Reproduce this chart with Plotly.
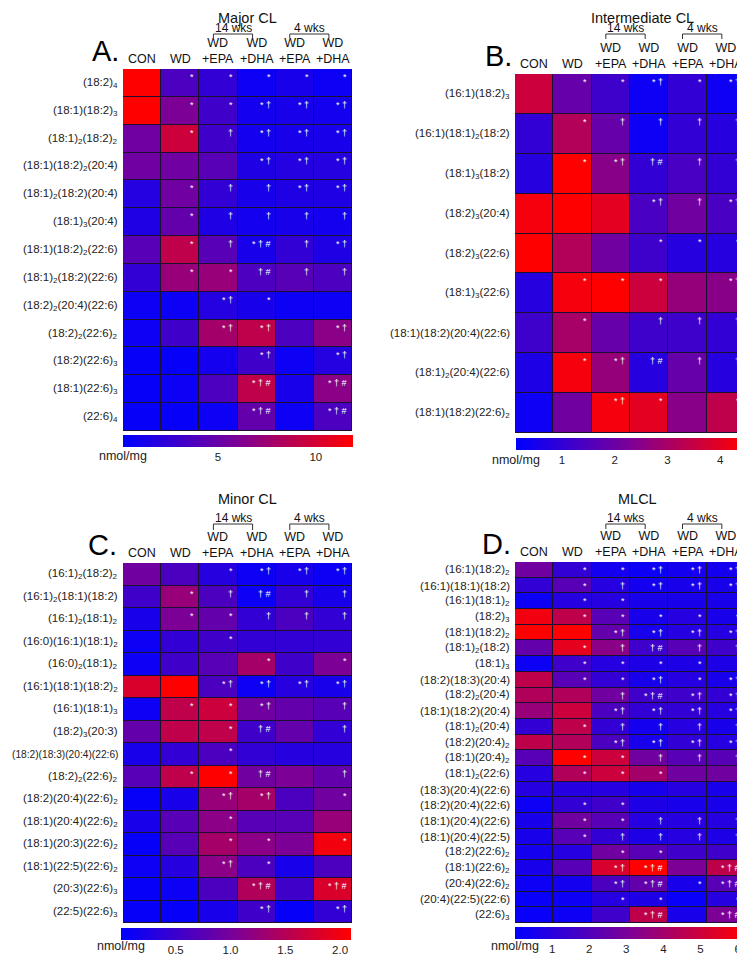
import plotly.graph_objects as go

# page is drawn with the browser's default 8px body margin -> figure is 8px smaller
OFF = 8
W, H = 745 - OFF, 956 - OFF
FONT = "Liberation Sans, Arial, sans-serif"

columns = ["CON", "WD", "WD<br>+EPA", "WD<br>+DHA", "WD<br>+EPA", "WD<br>+DHA"]

# ---------------- Panel A: Major CL ----------------
rows_a = ["(18:2)<sub>4</sub>", "(18:1)(18:2)<sub>3</sub>", "(18:1)<sub>2</sub>(18:2)<sub>2</sub>",
          "(18:1)(18:2)<sub>2</sub>(20:4)", "(18:1)<sub>2</sub>(18:2)(20:4)", "(18:1)<sub>3</sub>(20:4)",
          "(18:1)(18:2)<sub>2</sub>(22:6)", "(18:1)<sub>2</sub>(18:2)(22:6)", "(18:2)<sub>2</sub>(20:4)(22:6)",
          "(18:2)<sub>2</sub>(22:6)<sub>2</sub>", "(18:2)(22:6)<sub>3</sub>", "(18:1)(22:6)<sub>3</sub>",
          "(22:6)<sub>4</sub>"]
vals_a = [
    [12.0, 3.7, 2.5, 0.7, 1.3, 0.7],
    [11.9, 6.0, 3.1, 1.1, 1.3, 1.1],
    [5.4, 9.6, 3.1, 1.1, 1.3, 1.3],
    [5.4, 5.4, 4.3, 1.6, 1.9, 1.9],
    [1.9, 5.4, 2.5, 1.3, 1.6, 1.6],
    [1.6, 4.8, 1.6, 1.1, 1.3, 1.1],
    [4.3, 9.0, 4.3, 1.3, 2.5, 1.6],
    [2.5, 7.2, 7.2, 3.7, 4.3, 3.7],
    [0.7, 0.7, 1.9, 1.3, 0.7, 0.7],
    [0.7, 3.1, 7.8, 9.0, 3.7, 6.6],
    [0.5, 0.5, 1.1, 3.1, 0.7, 1.9],
    [0.5, 0.7, 3.7, 9.0, 1.3, 6.6],
    [0.5, 0.5, 0.7, 4.8, 0.7, 3.7],
]
sig_a = [
    ["", "*", "*", "*", "*", "*"],
    ["", "*", "*", "*†", "*†", "*†"],
    ["", "*", "†", "*†", "*†", "*†"],
    ["", "", "", "*†", "*†", "*†"],
    ["", "*", "†", "†", "*†", "*†"],
    ["", "*", "†", "†", "†", "†"],
    ["", "*", "†", "*†#", "†", "*†"],
    ["", "*", "*", "†#", "†", "†"],
    ["", "", "*†", "*", "", ""],
    ["", "", "*†", "*†", "", "*†"],
    ["", "", "", "*†", "", "*†"],
    ["", "", "", "*†#", "", "*†#"],
    ["", "", "", "*†#", "", "*†#"],
]
ticks_a = [5, 10]
range_a = [0.15, 11.9]

# ---------------- Panel B: Intermediate CL ----------------
rows_b = ["(16:1)(18:2)<sub>3</sub>", "(16:1)(18:1)<sub>2</sub>(18:2)", "(18:1)<sub>3</sub>(18:2)",
          "(18:2)<sub>3</sub>(20:4)", "(18:2)<sub>3</sub>(22:6)", "(18:1)<sub>3</sub>(22:6)",
          "(18:1)(18:2)(20:4)(22:6)", "(18:1)<sub>2</sub>(20:4)(22:6)", "(18:1)(18:2)(22:6)<sub>2</sub>"]
vals_b = [
    [3.6, 1.9, 1.2, 0.35, 1.0, 0.35],
    [1.0, 3.2, 1.9, 0.35, 1.0, 0.8],
    [0.8, 4.5, 2.5, 1.0, 1.4, 1.0],
    [4.3, 4.5, 4.0, 1.4, 2.1, 1.4],
    [4.5, 3.2, 2.1, 1.2, 0.8, 0.8],
    [0.8, 4.3, 4.5, 3.6, 2.7, 2.5],
    [1.2, 3.0, 1.9, 1.2, 1.2, 1.0],
    [0.65, 4.3, 2.7, 0.8, 1.9, 0.8],
    [0.35, 2.1, 4.3, 4.0, 2.5, 3.4],
]
sig_b = [
    ["", "*", "*", "*†", "*", "*†"],
    ["", "*", "†", "†", "†", "†"],
    ["", "*", "*†", "†#", "†", "†"],
    ["", "", "", "*†", "†", "*†"],
    ["", "", "", "*", "*", "*"],
    ["", "*", "*", "*", "", "*†"],
    ["", "*", "", "†", "†", "†"],
    ["", "*", "*†", "†#", "†", "†"],
    ["", "", "*†", "*", "", "*"],
]
ticks_b = [1, 2, 3, 4]
range_b = [0.13, 4.47]

# ---------------- Panel C: Minor CL ----------------
rows_c = ["(16:1)<sub>2</sub>(18:2)<sub>2</sub>", "(16:1)<sub>2</sub>(18:1)(18:2)", "(16:1)<sub>2</sub>(18:1)<sub>2</sub>",
          "(16:0)(16:1)(18:1)<sub>2</sub>", "(16:0)<sub>2</sub>(18:1)<sub>2</sub>", "(16:1)(18:1)(18:2)<sub>2</sub>",
          "(16:1)(18:1)<sub>3</sub>", "(18:2)<sub>3</sub>(20:3)", "(18:2)(18:3)(20:4)(22:6)",
          "(18:2)<sub>2</sub>(22:6)<sub>2</sub>", "(18:2)(20:4)(22:6)<sub>2</sub>", "(18:1)(20:4)(22:6)<sub>2</sub>",
          "(18:1)(20:3)(22:6)<sub>2</sub>", "(18:1)(22:5)(22:6)<sub>2</sub>", "(20:3)(22:6)<sub>3</sub>",
          "(22:5)(22:6)<sub>3</sub>"]
vals_c = [
    [0.95, 0.63, 0.32, 0.10, 0.21, 0.10],
    [0.53, 1.26, 0.63, 0.10, 0.42, 0.21],
    [0.21, 1.05, 0.84, 0.42, 0.63, 0.42],
    [0.10, 0.42, 0.53, 0.42, 0.42, 0.42],
    [0.10, 0.53, 0.74, 1.37, 0.53, 1.05],
    [1.79, 2.10, 0.63, 0.10, 0.32, 0.21],
    [0.10, 1.58, 1.68, 0.95, 0.84, 0.74],
    [0.84, 1.58, 1.58, 0.53, 0.84, 0.42],
    [0.21, 0.42, 0.63, 0.42, 0.32, 0.32],
    [0.74, 1.58, 2.10, 0.95, 1.05, 0.84],
    [0.06, 0.21, 1.26, 1.37, 0.63, 0.95],
    [0.21, 0.74, 1.16, 0.74, 0.74, 1.26],
    [0.06, 0.74, 1.37, 1.16, 1.05, 2.00],
    [0.10, 0.32, 1.16, 0.63, 0.21, 0.63],
    [0.06, 0.10, 0.63, 1.47, 0.53, 1.79],
    [0.06, 0.06, 0.21, 0.53, 0.06, 0.42],
]
sig_c = [
    ["", "", "*", "*†", "*†", "*†"],
    ["", "*", "†", "†#", "†", "†"],
    ["", "*", "*", "†", "†", "†"],
    ["", "", "*", "", "", ""],
    ["", "", "", "*", "", "*"],
    ["", "", "*†", "*†", "*†", "*†"],
    ["", "*", "*", "*†", "", "†"],
    ["", "", "*", "†#", "", "†"],
    ["", "", "*", "", "", ""],
    ["", "*", "*", "†#", "", "†"],
    ["", "", "*†", "*†", "", "*"],
    ["", "", "*", "", "", ""],
    ["", "", "*", "*", "", "*"],
    ["", "", "*†", "*", "", ""],
    ["", "", "", "*†#", "", "*†#"],
    ["", "", "", "*†", "", "*†"],
]
ticks_c = [0.5, 1.0, 1.5, 2.0]
range_c = [0.0, 2.1]

# ---------------- Panel D: MLCL ----------------
rows_d = ["(16:1)(18:2)<sub>2</sub>", "(16:1)(18:1)(18:2)", "(16:1)(18:1)<sub>2</sub>", "(18:2)<sub>3</sub>",
          "(18:1)(18:2)<sub>2</sub>", "(18:1)<sub>2</sub>(18:2)", "(18:1)<sub>3</sub>", "(18:2)(18:3)(20:4)",
          "(18:2)<sub>2</sub>(20:4)", "(18:1)(18:2)(20:4)", "(18:1)<sub>2</sub>(20:4)", "(18:2)(20:4)<sub>2</sub>",
          "(18:1)(20:4)<sub>2</sub>", "(18:1)<sub>2</sub>(22:6)", "(18:3)(20:4)(22:6)", "(18:2)(20:4)(22:6)",
          "(18:1)(20:4)(22:6)", "(18:1)(20:4)(22:5)", "(18:2)(22:6)<sub>2</sub>", "(18:1)(22:6)<sub>2</sub>",
          "(20:4)(22:6)<sub>2</sub>", "(20:4)(22:5)(22:6)", "(22:6)<sub>3</sub>"]
vals_d = [
    [2.80, 1.24, 0.50, 0.31, 0.50, 0.50],
    [1.24, 2.17, 0.93, 0.50, 0.62, 0.62],
    [0.31, 0.93, 0.93, 0.62, 0.62, 0.62],
    [5.90, 4.65, 2.17, 0.62, 0.93, 0.62],
    [6.20, 6.20, 2.48, 0.62, 0.93, 0.93],
    [2.48, 5.58, 3.41, 1.55, 2.17, 1.55],
    [0.31, 1.55, 0.93, 0.74, 0.74, 0.74],
    [4.65, 2.17, 1.24, 0.62, 0.93, 0.62],
    [4.34, 4.34, 2.79, 1.55, 1.55, 1.24],
    [3.72, 4.96, 1.86, 1.24, 1.24, 0.93],
    [1.24, 4.65, 1.24, 0.50, 0.93, 0.62],
    [4.65, 4.34, 1.86, 0.62, 1.24, 0.93],
    [2.17, 6.20, 4.96, 2.79, 2.17, 2.17],
    [0.93, 4.34, 4.96, 4.03, 2.79, 2.79],
    [0.93, 0.93, 0.93, 0.62, 0.93, 0.62],
    [0.31, 1.24, 1.55, 0.74, 0.62, 0.62],
    [0.62, 2.79, 2.17, 0.93, 0.93, 0.93],
    [0.62, 2.17, 1.24, 0.74, 0.93, 0.74],
    [0.50, 0.93, 2.79, 2.17, 1.55, 1.55],
    [0.62, 2.17, 5.27, 6.20, 3.10, 4.65],
    [0.31, 0.50, 1.86, 2.48, 0.62, 2.17],
    [0.19, 0.31, 0.93, 0.74, 0.19, 0.93],
    [0.19, 0.31, 1.55, 4.65, 0.62, 3.10],
]
sig_d = [
    ["", "*", "*", "*†", "*†", "*†"],
    ["", "*", "†", "*†", "*†", "*†"],
    ["", "*", "*", "", "", ""],
    ["", "*", "*", "*", "*", "*"],
    ["", "", "*†", "*†", "*†", "*†"],
    ["", "*", "†", "†#", "†", "†"],
    ["", "*", "*", "*", "*", ""],
    ["", "*", "*", "*†", "*", "*†"],
    ["", "", "†", "*†#", "*†", "*†"],
    ["", "", "*†", "*†", "*†", "*†"],
    ["", "*", "†", "†", "†", "†"],
    ["", "", "*†", "*†", "*†", "*†"],
    ["", "*", "*", "†", "†", "†"],
    ["", "*", "*", "*", "", ""],
    ["", "", "", "", "", ""],
    ["", "*", "*", "", "", ""],
    ["", "*", "*", "†", "†", "†"],
    ["", "*", "†", "†", "†", "†"],
    ["", "", "*", "*", "", ""],
    ["", "", "*†", "*†#", "", "*†#"],
    ["", "", "*†", "*†#", "*", "*†#"],
    ["", "", "*", "*", "", "*"],
    ["", "", "", "*†#", "", "*†#"],
]
ticks_d = [1, 2, 3, 4, 5, 6]
range_d = [0.0, 6.2]


def px(x):
    return (x - OFF) / W


def py(y):
    return 1 - (y - OFF) / H


colorscale = [[0.0, "rgb(0,0,255)"], [0.5, "rgb(125,0,150)"], [1.0, "rgb(255,0,0)"]]

# panel layout in page pixels: heatmap box, colorbar, titles
panels = [
    dict(key="", rows=rows_a, vals=vals_a, sig=sig_a, ticks=ticks_a, zr=range_a, fmt="",
         box=(123, 69, 352, 431), cb=(123, 435, 353), title="Major CL", title_x=247, title_top=8,
         letter="A.", letter_x=121, wk_y=34, wk_tick=38, cb_label_y=456),
    dict(key="2", rows=rows_b, vals=vals_b, sig=sig_b, ticks=ticks_b, zr=range_b, fmt="",
         box=(515, 74, 745, 433), cb=(516, 438, 745), title="Intermediate CL", title_x=642, title_top=8,
         letter="B.", letter_x=514, wk_y=34, wk_tick=39, cb_label_y=460),
    dict(key="3", rows=rows_c, vals=vals_c, sig=sig_c, ticks=ticks_c, zr=range_c, fmt=".1f",
         box=(123, 563, 352, 923), cb=(121, 928, 351), title="Minor CL", title_x=247, title_top=489,
         letter="C.", letter_x=119, wk_y=524, wk_tick=530, cb_label_y=946),
    dict(key="4", rows=rows_d, vals=vals_d, sig=sig_d, ticks=ticks_d, zr=range_d, fmt="",
         box=(515, 562, 745, 923), cb=(515, 927, 745), title="MLCL", title_x=637, title_top=489,
         letter="D.", letter_x=513, wk_y=524, wk_tick=529, cb_label_y=946),
]

fig = go.Figure()
annotations = []
shapes = []
layout = {}

for p in panels:
    k = p["key"]
    x0, y0, x1, y1 = p["box"]
    n = len(p["rows"])
    xa = "x" + k
    ya = "y" + k
    cbx0, cby, cbx1 = p["cb"]
    fig.add_trace(go.Heatmap(
        z=p["vals"], x=list(range(6)), y=list(range(n)),
        xaxis=xa, yaxis=ya,
        colorscale=colorscale, zmin=p["zr"][0], zmax=p["zr"][1],
        xgap=1, ygap=1, hoverinfo="skip",
        colorbar=dict(
            orientation="h", x=px((cbx0 + cbx1) / 2), xanchor="center",
            y=py(cby), yanchor="top", len=cbx1 - cbx0, lenmode="pixels",
            thickness=12, thicknessmode="pixels", xpad=0, ypad=0,
            outlinewidth=0, ticks="", tickvals=p["ticks"], tickformat=p["fmt"],
            tickfont=dict(family=FONT, size=11.5, color="#222"),
        ),
    ))
    layout["xaxis" + k] = dict(domain=[px(x0), min(px(x1), 1.0)], range=[-0.5, 5.5], anchor=ya,
                               showticklabels=False, showgrid=False, zeroline=False,
                               fixedrange=True, showline=False, automargin=False)
    layout["yaxis" + k] = dict(domain=[py(y1), py(y0)], range=[n - 0.5, -0.5], anchor=xa,
                               showticklabels=False, ticks="", automargin=False,
                               showgrid=False, zeroline=False, fixedrange=True, showline=False)
    # row labels (species names)
    for i, lab in enumerate(p["rows"]):
        visible = lab.replace("<sub>", "").replace("</sub>", "")
        size = 10.2 if (k == "3" and len(visible) >= 24) else 11.5
        annotations.append(dict(
            x=px(x0 - 3), y=i, xref="paper", yref=ya, text=lab,
            showarrow=False, xanchor="right", yanchor="middle",
            font=dict(family=FONT, size=size, color="#222")))
    # significance marks
    for i, row in enumerate(p["sig"]):
        for j, s in enumerate(row):
            if s:
                annotations.append(dict(
                    x=j + 0.5, y=i - 0.5, xref=xa, yref=ya, text=" ".join(s),
                    showarrow=False, xanchor="right", yanchor="top", xshift=-3, yshift=-1,
                    font=dict(family=FONT, size=9, color="white")))
    # column headers
    cw = (x1 - x0) / 6
    for j, c in enumerate(columns):
        annotations.append(dict(
            x=px(x0 + cw * (j + 0.5)), y=py(y0 - 1), xref="paper", yref="paper",
            text=c, showarrow=False, xanchor="center", yanchor="bottom",
            font=dict(family=FONT, size=12.5, color="#111")))
    # title
    annotations.append(dict(x=px(p["title_x"]), y=py(p["title_top"]), xref="paper", yref="paper",
                            text=p["title"], showarrow=False, xanchor="center", yanchor="top",
                            font=dict(family=FONT, size=14.5, color="#111")))
    # panel letter
    annotations.append(dict(x=px(p["letter_x"]), y=py(y0), xref="paper", yref="paper",
                            text=p["letter"], showarrow=False, xanchor="right", yanchor="bottom",
                            font=dict(family=FONT, size=29, color="#000")))
    # week brackets
    for (ca, cb_, lab) in [(2, 3, "14 wks"), (4, 5, "4 wks")]:
        bx0 = x0 + cw * (ca + 0.5) - 5
        bx1 = x0 + cw * (cb_ + 0.5) - 4
        wy, wt = p["wk_y"], p["wk_tick"]
        shapes.append(dict(type="path", xref="paper", yref="paper",
                           path=f"M {px(bx0)},{py(wt)} L {px(bx0)},{py(wy)} L {px(bx1)},{py(wy)} L {px(bx1)},{py(wt)}",
                           line=dict(color="#333", width=1)))
        annotations.append(dict(x=px((bx0 + bx1) / 2), y=py(wy + 2.5), xref="paper", yref="paper",
                                text=lab, showarrow=False, xanchor="center", yanchor="bottom",
                                font=dict(family=FONT, size=12, color="#111")))
    # colorbar unit label
    annotations.append(dict(x=px(cbx0), y=py(p["cb_label_y"]), xref="paper", yref="paper",
                            text="nmol/mg", showarrow=False, xanchor="center", yanchor="middle",
                            font=dict(family=FONT, size=12.5, color="#222")))

fig.update_layout(
    width=W, height=H, margin=dict(l=0, r=0, t=0, b=0),
    paper_bgcolor="white", plot_bgcolor="#1c1030",
    font=dict(family=FONT),
    annotations=annotations, shapes=shapes, showlegend=False,
    **layout,
)
fig.write_html("out.html")
